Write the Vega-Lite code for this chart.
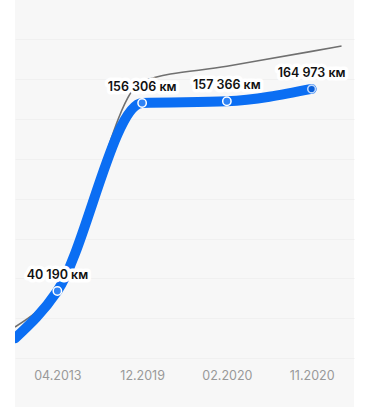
{
  "$schema": "https://vega.github.io/schema/vega-lite/v6.json",
  "width": 339,
  "height": 407,
  "autosize": {"type": "none"},
  "padding": {"left": 15, "top": 0, "right": 16, "bottom": 0},
  "background": "white",
  "config": {"view": {"fill": "#f7f7f7", "stroke": null}},
  "datasets": {
    "blue": [
      {"i": -0.5, "km": 11000, "label": null, "last": false},
      {"i": 0, "km": 40190, "label": "40 190 км", "last": false},
      {"i": 1, "km": 156306, "label": "156 306 км", "last": false},
      {"i": 2, "km": 157366, "label": "157 366 км", "last": false},
      {"i": 3, "km": 164973, "label": "164 973 км", "last": true}
    ],
    "gray": [
      {"i": -0.5, "km": 17956},
      {"i": 0, "km": 41400},
      {"i": 1, "km": 169700},
      {"i": 2, "km": 178960},
      {"i": 3, "km": 188200},
      {"i": 3.353, "km": 191500}
    ]
  },
  "encoding": {
    "x": {
      "field": "i", "type": "quantitative",
      "scale": {"domain": [-0.5, 3.5], "nice": false, "zero": false},
      "axis": {
        "values": [0, 1, 2, 3],
        "labelExpr": "['04.2013','12.2019','02.2020','11.2020'][datum.value]",
        "grid": false, "domain": false, "ticks": false,
        "offset": -49, "labelPadding": 11,
        "labelColor": "#999999", "labelFontSize": 12.5, "labelFont": "Inter",
        "title": null
      }
    },
    "y": {
      "field": "km", "type": "quantitative",
      "scale": {"domain": [-31452, 219912], "nice": false, "zero": false},
      "axis": {
        "values": [-1189, 23411, 48011, 72611, 97211, 121811, 146411, 171011, 195611],
        "grid": true, "gridColor": "#f0f0f0", "gridWidth": 1,
        "labels": false, "ticks": false, "domain": false, "title": null
      }
    }
  },
  "layer": [
    {
      "data": {"name": "gray"},
      "mark": {"type": "line", "interpolate": "monotone", "color": "#707070", "strokeWidth": 1.6, "clip": true}
    },
    {
      "data": {"name": "blue"},
      "mark": {"type": "line", "interpolate": "monotone", "color": "#0b6ef3", "strokeWidth": 10, "clip": true, "strokeCap": "round"}
    },
    {
      "data": {"name": "blue"},
      "transform": [{"filter": "datum.label != null && !datum.last"}],
      "mark": {"type": "point", "shape": "circle", "filled": true, "fill": "#2f83f5", "stroke": "white", "strokeWidth": 1.5, "size": 70, "opacity": 1}
    },
    {
      "data": {"name": "blue"},
      "transform": [{"filter": "datum.last"}],
      "mark": {"type": "point", "shape": "circle", "filled": true, "fill": "#0a5fd8", "stroke": "#bcd6fb", "strokeWidth": 1.6, "size": 60, "opacity": 1}
    },
    {
      "data": {"name": "blue"},
      "transform": [{"filter": "datum.label != null"}],
      "mark": {"type": "text", "dy": -16, "baseline": "middle", "align": "center", "font": "Inter", "fontSize": 12.5, "fontWeight": 600, "fill": "white", "stroke": "white", "strokeWidth": 7, "strokeJoin": "round"},
      "encoding": {"text": {"field": "label"}}
    },
    {
      "data": {"name": "blue"},
      "transform": [{"filter": "datum.label != null"}],
      "mark": {"type": "text", "dy": -16, "baseline": "middle", "align": "center", "font": "Inter", "fontSize": 12.5, "fontWeight": 600, "color": "#111111"},
      "encoding": {"text": {"field": "label"}}
    }
  ]
}
